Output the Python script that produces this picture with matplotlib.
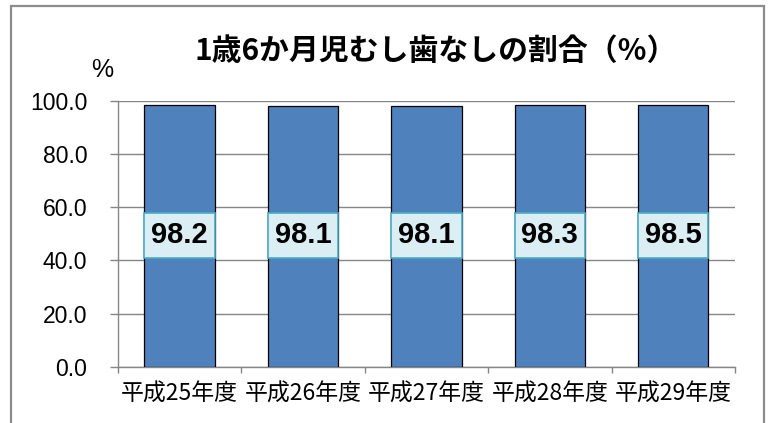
import matplotlib
matplotlib.use('Agg')
import matplotlib.pyplot as plt
from matplotlib.patches import Rectangle

# data
years = ['平成25年度', '平成26年度', '平成27年度', '平成28年度', '平成29年度']
rates = [98.2, 98.1, 98.1, 98.3, 98.5]
yticks = [0, 20, 40, 60, 80, 100]
title = '1歳6か月児むし歯なしの割合（%）'

plt.rcParams['font.family'] = ['Noto Sans CJK JP', 'DejaVu Sans']

fig = plt.figure(figsize=(7.7, 4.23), dpi=100)
ax = fig.add_axes([0.1532, 0.1324, 0.8013, 0.6296])

# outer chart border
fig.patches.append(Rectangle((10.5 / 770, -0.05), 753 / 770, 1.05 - 6.5 / 423,
                             transform=fig.transFigure, fill=False,
                             edgecolor='#8c8c8c', linewidth=1.6, clip_on=False))

x = list(range(len(years)))
bars = ax.bar(x, rates, width=0.57, color='#4F81BD', edgecolor='black',
              linewidth=0.9, zorder=3)

# value label boxes at the middle of each bar
for b, v in zip(bars, rates):
    ax.add_patch(Rectangle((b.get_x(), 40.9), b.get_width(), 16.9,
                           facecolor='#DBEEF4', edgecolor='#4BACC6',
                           linewidth=1.2, zorder=4))
    ax.text(b.get_x() + b.get_width() / 2, 49.4, f'{v:.1f}',
            ha='center', va='center', fontsize=21, fontweight='bold',
            family='Liberation Sans', zorder=5)

ax.set_xlim(-0.5, len(years) - 0.5)
ax.set_ylim(0, 100)
ax.set_yticks(yticks)
ax.set_yticklabels([f'{t:.1f}' for t in yticks], family='Liberation Sans',
                   fontsize=16.5)
ax.yaxis.grid(True, color='#868686', linewidth=1.0, zorder=0)
ax.tick_params(axis='y', length=6, width=1.0, color='#868686', pad=16)

# category boundaries as ticks, names in between
ax.set_xticks([i - 0.5 for i in range(len(years) + 1)])
ax.set_xticklabels([''] * (len(years) + 1))
ax.set_xticks(x, minor=True)
ax.set_xticklabels(years, minor=True, fontsize=16.5)
ax.tick_params(axis='x', which='major', length=4.5, width=1.0, color='#868686')
ax.tick_params(axis='x', which='minor', length=0, pad=11)

for s in ['top', 'right']:
    ax.spines[s].set_visible(False)
for s in ['left', 'bottom']:
    ax.spines[s].set_color('#868686')
    ax.spines[s].set_linewidth(1.0)

fig.text(436 / 770, 1 - 51 / 423, title, ha='center', va='center',
         fontsize=21.5, fontweight='bold')
fig.text(102 / 770, 1 - 70 / 423, '%', ha='center', va='center',
         fontsize=18, family='Liberation Sans')

fig.savefig('out.png', dpi=100)
